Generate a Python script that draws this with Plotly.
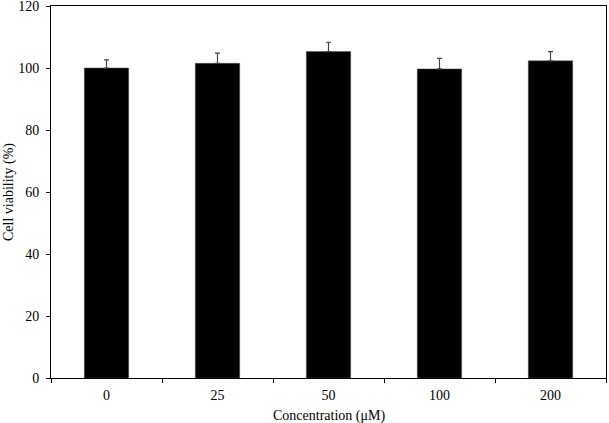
import plotly.graph_objects as go

# Data
concentrations = ["0", "25", "50", "100", "200"]
viability = [100.0, 101.5, 105.3, 99.7, 102.3]
viability_sd = [2.6, 3.3, 3.0, 3.4, 3.0]

fig = go.Figure()

fig.add_trace(
    go.Bar(
        x=concentrations,
        y=viability,
        width=0.4,
        marker=dict(color="black", line=dict(color="#555555", width=0.5)),
        error_y=dict(
            type="data",
            symmetric=False,
            array=viability_sd,
            arrayminus=[0] * len(viability_sd),
            color="#444444",
            thickness=1.2,
            width=2.5,
        ),
        showlegend=False,
    )
)

axis_font = dict(family="Liberation Serif, Times New Roman, serif", size=14, color="black")

fig.update_layout(
    width=609,
    height=423,
    margin=dict(l=51, r=3, t=6, b=45, autoexpand=False),
    paper_bgcolor="white",
    plot_bgcolor="white",
    font=axis_font,
)

fig.update_xaxes(
    type="category",
    tickson="boundaries",
    ticks="outside",
    ticklen=4,
    tickcolor="black",
    ticklabelstandoff=4,
    showline=True,
    linecolor="black",
    linewidth=1,
    mirror=True,
    showgrid=False,
    automargin=False,
    tickfont=axis_font,
)

fig.update_yaxes(
    range=[0, 120],
    dtick=20,
    ticks="outside",
    ticklen=4,
    tickcolor="black",
    ticklabelstandoff=4,
    ticklabeloverflow="allow",
    showline=True,
    linecolor="black",
    linewidth=1,
    mirror=True,
    showgrid=False,
    zeroline=False,
    automargin=False,
    tickfont=axis_font,
)

# axis titles placed like the reference
fig.add_annotation(
    text="Concentration (μM)", xref="paper", yref="paper",
    x=0.5, y=0, yshift=-38, yanchor="middle", showarrow=False, font=axis_font,
)
fig.add_annotation(
    text="Cell viability (%)", xref="paper", yref="paper",
    x=0, y=0.5, xshift=-42, xanchor="center", textangle=-90,
    showarrow=False, font=axis_font,
)

# drop the default page margin so the figure sits at the window's corner
fig.write_html(
    "out.html",
    config={"displayModeBar": False},
    post_script="document.body.style.margin='0';",
)
